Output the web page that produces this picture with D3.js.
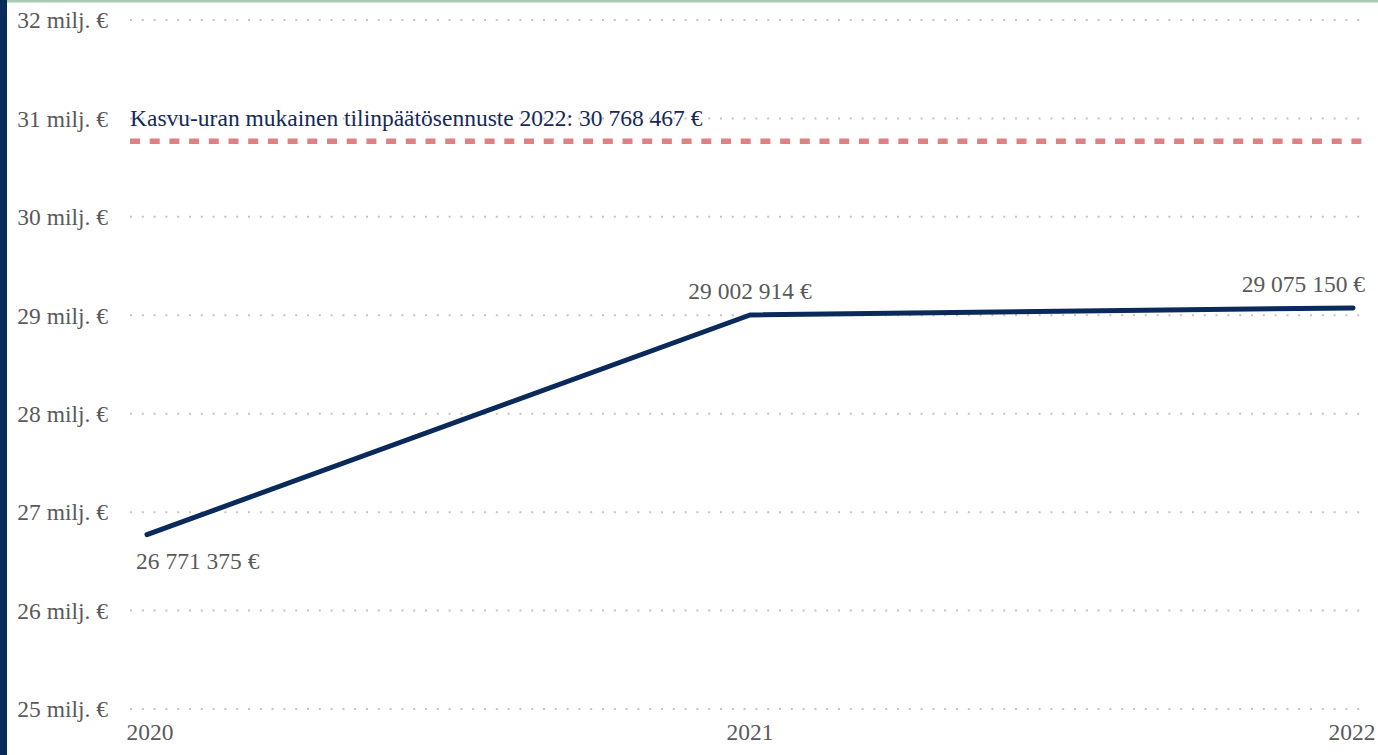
<!DOCTYPE html>
<html>
<head>
<meta charset="utf-8">
<script src="https://cdn.jsdelivr.net/npm/d3@7"></script>
<style>
  body { margin: 0; background: #fff; overflow: hidden; }
  svg { display: block; font-family: "Liberation Serif", "Times New Roman", serif; }
</style>
</head>
<body>
<script>
// data
const years = [2020, 2021, 2022];
const values = [26771375, 29002914, 29075150];
const forecastValue = 30768467;
const forecastLabel = "Kasvu-uran mukainen tilinpäätösennuste 2022: 30 768 467 €";
const yTicks = [25, 26, 27, 28, 29, 30, 31, 32];

const width = 1378;
const height = 755;
const fontSize = "23.5px";

const svg = d3.select("body")
  .append("svg")
  .attr("width", width)
  .attr("height", height);

// frame
svg.append("rect").attr("x", 0).attr("y", 0).attr("width", 7).attr("height", height).attr("fill", "#0b2a5c");
svg.append("rect").attr("x", 7).attr("y", 0).attr("width", width - 7).attr("height", 2.5).attr("fill", "#a9cbb1");

const x = d3.scaleLinear().domain([2020, 2022]).range([147, 1353]);
const y = d3.scaleLinear().domain([25e6, 32e6]).range([709, 20]);

const fmt = v => d3.format(",")(v).replace(/,/g, " ") + " €";

// grid + y labels
const grid = svg.append("g");
grid.selectAll("line")
  .data(yTicks)
  .enter()
  .append("line")
  .attr("x1", 130)
  .attr("x2", 1364)
  .attr("y1", d => y(d * 1e6))
  .attr("y2", d => y(d * 1e6))
  .style("stroke", "#c4c4c4")
  .style("stroke-width", 2)
  .style("stroke-dasharray", "2,9.8");

grid.selectAll("text")
  .data(yTicks)
  .enter()
  .append("text")
  .attr("x", 108)
  .attr("y", d => y(d * 1e6))
  .attr("dy", "0.35em")
  .attr("text-anchor", "end")
  .style("font-size", fontSize)
  .style("fill", "#5a5a5a")
  .text(d => d + " milj. €");

// x labels
svg.selectAll(".year")
  .data(years)
  .enter()
  .append("text")
  .classed("year", true)
  .attr("x", (d, i) => x(d) + [3, 0, -1][i])
  .attr("y", 740)
  .attr("text-anchor", "middle")
  .style("font-size", fontSize)
  .style("fill", "#5a5a5a")
  .text(d => d);

// forecast line
svg.append("line")
  .attr("x1", 130)
  .attr("x2", 1364)
  .attr("y1", y(forecastValue))
  .attr("y2", y(forecastValue))
  .style("stroke", "#df8184")
  .style("stroke-width", 5.5)
  .style("stroke-dasharray", "10,9.7");

svg.append("text")
  .attr("x", 130)
  .attr("y", y(forecastValue) - 15)
  .style("font-size", fontSize)
  .style("fill", "#16295a")
  .text(forecastLabel);

// series line
const line = d3.line()
  .x((d, i) => x(years[i]))
  .y(d => y(d));

svg.append("path")
  .datum(values)
  .attr("d", line)
  .style("fill", "none")
  .style("stroke", "#0b2a5c")
  .style("stroke-width", 5)
  .style("stroke-linecap", "round")
  .style("stroke-linejoin", "round");

// value labels
const anchors = ["start", "middle", "end"];
const dx = [-11, 0, 12];
const dy = [34, -16, -16];
svg.selectAll(".val")
  .data(values)
  .enter()
  .append("text")
  .classed("val", true)
  .attr("x", (d, i) => x(years[i]) + dx[i])
  .attr("y", (d, i) => y(d) + dy[i])
  .attr("text-anchor", (d, i) => anchors[i])
  .style("font-size", fontSize)
  .style("fill", "#5a5a5a")
  .text(d => fmt(d));
</script>
</body>
</html>
